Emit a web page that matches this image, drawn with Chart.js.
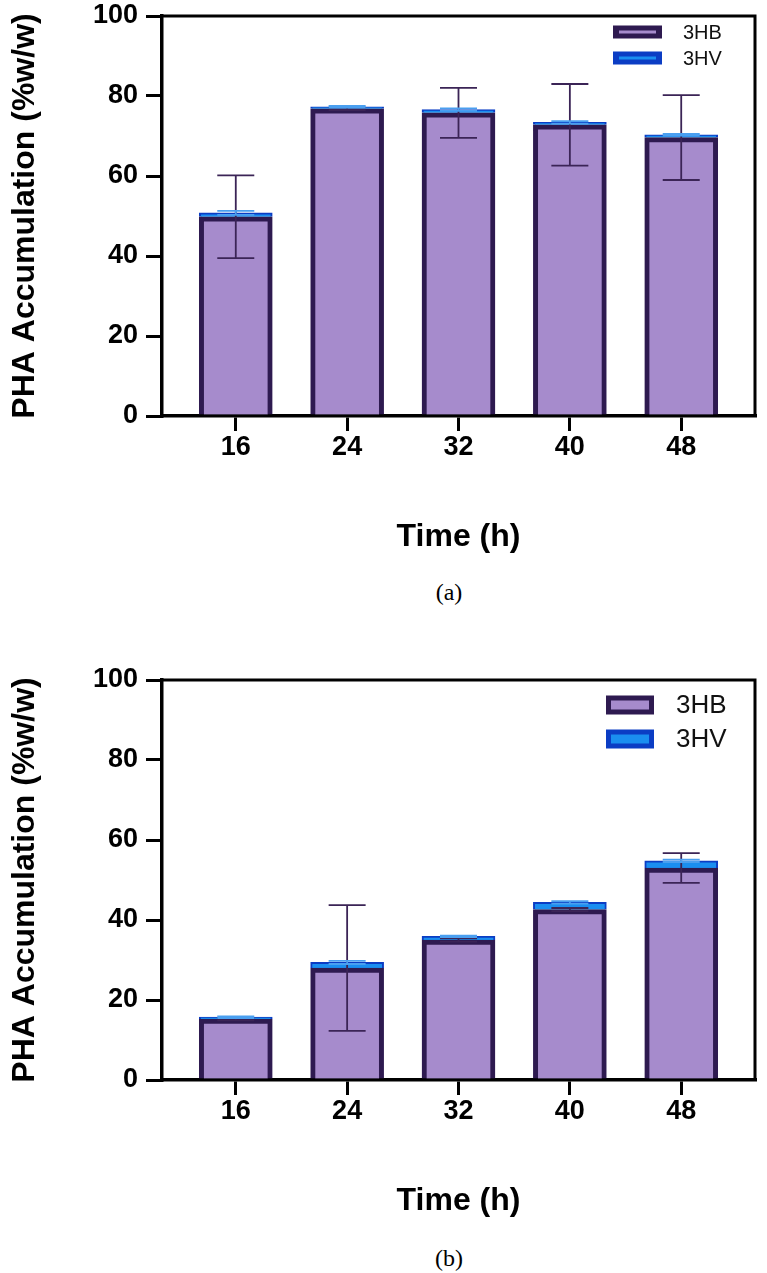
<!DOCTYPE html>
<html lang="en">
<head>
    <meta charset="UTF-8">
    <title>PHA Accumulation</title>

    <!-- Chart.js -->
    <script src="https://cdn.jsdelivr.net/npm/chart.js"></script>

    <style>
        body {
            margin: 0;
            background-color: #fff;
            width: 767px;
            height: 1273px;
            position: relative;
            overflow: hidden;
        }

        canvas {
            position: absolute;
            left: 0;
        }

        #chartA { top: 0; }
        #chartB { top: 664px; }

        .caption {
            position: absolute;
            left: 409px;
            width: 80px;
            text-align: center;
            font-family: "Liberation Serif", "Times New Roman", serif;
            font-size: 24px;
            color: #000;
        }
    </style>
</head>
<body>

    <canvas id="chartA" width="767" height="570"></canvas>
    <div class="caption" style="top: 579px;">(a)</div>

    <canvas id="chartB" width="767" height="570"></canvas>
    <div class="caption" style="top: 1245px;">(b)</div>

    <script>
        // Data
        const hours = [16, 24, 32, 40, 48];
        const seriesNames = ['3HB', '3HV'];

        // (a)
        const hbA = [49.8, 76.8, 75.8, 72.8, 69.6];
        const hvA = [1.0, 0.5, 0.8, 0.6, 0.7];
        const hbErrA = [10.35, 0.3, 6.25, 10.2, 10.6];
        const hvErrA = [0.5, 0.2, 0.3, 0.3, 0.2];

        // (b)
        const hbB = [15.2, 28.0, 35.0, 42.6, 53.0];
        const hvB = [0.5, 1.4, 0.9, 1.8, 1.8];
        const hbErrB = [0.3, 15.7, 0.4, 0.4, 3.7];
        const hvErrB = [0.2, 0.4, 0.2, 0.3, 0.3];

        const yTicks = [0, 20, 40, 60, 80, 100];

        const sans = '"Liberation Sans", Arial, Helvetica, sans-serif';
        const tickFont = { family: sans, size: 27, weight: 'bold', lineHeight: 1 };
        const titleFont = { family: sans, size: 32, weight: 'bold', lineHeight: 1.2 };

        // error bars drawn at the top of each stacked segment
        const errorBars = {
            id: 'errorBars',
            afterDatasetsDraw(chart) {
                const ctx = chart.ctx;
                const yScale = chart.scales.y;
                const zero = yScale.getPixelForValue(0);
                chart.data.datasets.forEach((ds, di) => {
                    const meta = chart.getDatasetMeta(di);
                    meta.data.forEach((bar, i) => {
                        const d = Math.abs(zero - yScale.getPixelForValue(ds.errors[i]));
                        const x = bar.x;
                        const yMid = bar.y;
                        const cap = 18.5;
                        ctx.save();
                        ctx.strokeStyle = ds.errorColor;
                        ctx.lineWidth = 1.8;
                        ctx.beginPath();
                        ctx.moveTo(x, yMid - d);
                        ctx.lineTo(x, yMid + d);
                        ctx.moveTo(x - cap, yMid - d);
                        ctx.lineTo(x + cap, yMid - d);
                        ctx.moveTo(x - cap, yMid + d);
                        ctx.lineTo(x + cap, yMid + d);
                        ctx.stroke();
                        ctx.restore();
                    });
                });
            }
        };

        // top and right frame lines
        const frame = {
            id: 'frame',
            afterDraw(chart) {
                const { ctx, chartArea: a } = chart;
                ctx.save();
                ctx.strokeStyle = '#000';
                ctx.lineWidth = 3;
                ctx.beginPath();
                ctx.moveTo(a.left, a.top);
                ctx.lineTo(a.right, a.top);
                ctx.lineTo(a.right, a.bottom);
                ctx.stroke();
                ctx.restore();
            }
        };

        // legend inside the plot, top right
        const boxLegend = {
            id: 'boxLegend',
            afterDraw(chart, args, opts) {
                const ctx = chart.ctx;
                chart.data.datasets.forEach((ds, i) => {
                    const cy = opts.rows[i];
                    const top = cy - opts.h / 2;
                    ctx.fillStyle = ds.borderColor;
                    ctx.fillRect(opts.x, top, opts.w, opts.h);
                    ctx.fillStyle = ds.backgroundColor;
                    ctx.fillRect(opts.x + opts.insetX, top + opts.insetY,
                        opts.w - 2 * opts.insetX, opts.h - 2 * opts.insetY);
                    ctx.fillStyle = '#111';
                    ctx.font = opts.fontSize + 'px ' + sans;
                    ctx.textBaseline = 'middle';
                    ctx.textAlign = 'left';
                    ctx.fillText(ds.label, opts.textX, cy + 1);
                });
            }
        };

        function makeChart(id, hb, hv, hbErr, hvErr, legendOpts) {
            const ctx = document.getElementById(id).getContext('2d');
            return new Chart(ctx, {
                type: 'bar',
                data: {
                    datasets: [{
                        label: seriesNames[0],
                        data: hours.map((h, i) => ({ x: h, y: hb[i] })),
                        errors: hbErr,
                        errorColor: '#3b2456',
                        backgroundColor: '#a68bcc',
                        borderColor: '#2e1a50',
                        borderWidth: 5,
                        borderSkipped: 'start',
                        barThickness: 73
                    }, {
                        label: seriesNames[1],
                        data: hours.map((h, i) => ({ x: h, y: hv[i] })),
                        errors: hvErr,
                        errorColor: '#4a9ff0',
                        backgroundColor: '#1a8ef0',
                        borderColor: '#0b3dc4',
                        borderWidth: 2,
                        borderSkipped: 'start',
                        barThickness: 73
                    }]
                },
                options: {
                    responsive: false,
                    animation: false,
                    layout: { padding: { top: 16, right: 12, left: 0, bottom: 0 } },
                    plugins: {
                        legend: { display: false },
                        tooltip: { enabled: false },
                        boxLegend: legendOpts
                    },
                    scales: {
                        x: {
                            type: 'linear',
                            min: 10.7,
                            max: 53.3,
                            offset: false,
                            stacked: true,
                            afterBuildTicks: s => { s.ticks = hours.map(v => ({ value: v })); },
                            afterFit: s => {
                                s.height = 154;
                                s.paddingLeft = 0;
                                s.paddingRight = 0;
                            },
                            ticks: {
                                font: tickFont,
                                color: '#000',
                                padding: 3,
                                autoSkip: false,
                                maxRotation: 0,
                                callback: v => String(v)
                            },
                            grid: { offset: false, drawOnChartArea: false, tickLength: 15, lineWidth: 3, color: '#000' },
                            border: { display: true, color: '#000', width: 3.5 },
                            title: {
                                display: true,
                                text: 'Time (h)',
                                font: titleFont,
                                color: '#000',
                                padding: { top: 0, bottom: 14 }
                            }
                        },
                        y: {
                            min: 0,
                            max: 100,
                            stacked: true,
                            afterBuildTicks: s => { s.ticks = yTicks.map(v => ({ value: v })); },
                            afterFit: s => {
                                s.width = 162;
                                s.paddingTop = 0;
                                s.paddingBottom = 0;
                            },
                            ticks: { font: tickFont, color: '#000', padding: 8 },
                            grid: { drawOnChartArea: false, tickLength: 16, lineWidth: 3, color: '#000' },
                            border: { display: true, color: '#000', width: 3.5 },
                            title: {
                                display: true,
                                text: 'PHA Accumulation (%w/w)',
                                font: titleFont,
                                color: '#000',
                                padding: { top: 6, bottom: 0 }
                            }
                        }
                    }
                },
                plugins: [errorBars, frame, boxLegend]
            });
        }

        makeChart('chartA', hbA, hvA, hbErrA, hvErrA,
            { x: 613, rows: [32, 58], w: 49, h: 13, insetX: 6, insetY: 5, fontSize: 20, textX: 683 });
        makeChart('chartB', hbB, hvB, hbErrB, hvErrB,
            { x: 606, rows: [41, 75], w: 48, h: 19, insetX: 5, insetY: 5, fontSize: 26, textX: 676 });
    </script>

</body>
</html>
